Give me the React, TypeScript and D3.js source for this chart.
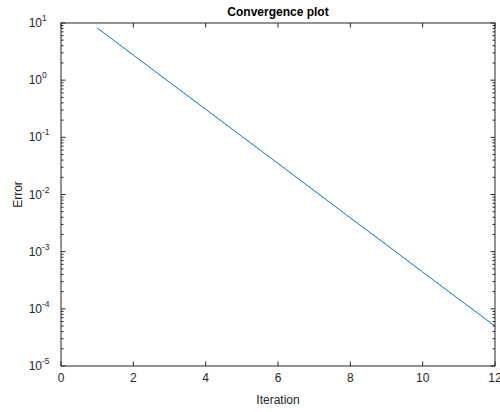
import React from 'react'
import * as d3 from 'd3'

// values
const iterations = [1, 2, 3, 4, 5, 6, 7, 8, 9, 10, 11, 12]
const errors = [8.2, 2.75, 0.92, 0.31, 0.104, 0.035, 0.0117, 0.0039, 0.00132, 4.4e-4, 1.48e-4, 5.0e-5]
const xTicks = [0, 2, 4, 6, 8, 10, 12]
const yExponents = [-5, -4, -3, -2, -1, 0, 1]

const width = 500
const height = 412
const margin = { top: 23, right: 5, bottom: 46, left: 61 }
const axisColor = '#262626'
const font = '"Liberation Sans", Arial, Helvetica, sans-serif'

const App = () => {
  const x = d3.scaleLinear().domain([0, 12]).range([margin.left, width - margin.right])
  const y = d3.scaleLog().domain([1e-5, 10]).range([height - margin.bottom, margin.top])

  const line = d3
    .line<number>()
    .x((_, i) => x(iterations[i]))
    .y((d) => y(d))

  const minorTicks: number[] = []
  yExponents.slice(0, -1).forEach((e) => {
    for (let m = 2; m <= 9; m++) minorTicks.push(m * Math.pow(10, e))
  })

  const x0 = margin.left
  const x1 = width - margin.right
  const y0 = height - margin.bottom
  const y1 = margin.top

  return (
    <svg width={width} height={height} style={{ position: 'absolute', left: 0, top: 0, background: '#fff' }}>
      <rect x={0} y={0} width={width} height={height} fill="#fff" />
      {/* data line */}
      <path d={line(errors) || ''} fill="none" stroke="#0072BD" strokeWidth={1} />

      {/* x ticks, bottom and top */}
      {xTicks.map((t) => (
        <g key={'x' + t}>
          <line x1={x(t)} x2={x(t)} y1={y0} y2={y0 - 4.5} stroke={axisColor} strokeWidth={1} />
          <line x1={x(t)} x2={x(t)} y1={y1} y2={y1 + 4.5} stroke={axisColor} strokeWidth={1} />
          <text x={x(t)} y={y0 + 16} textAnchor="middle" fontFamily={font} fontSize={12} fill={axisColor}>
            {t}
          </text>
        </g>
      ))}

      {/* y minor ticks */}
      {minorTicks.map((t, i) => (
        <g key={'m' + i}>
          <line x1={x0} x2={x0 + 2.5} y1={y(t)} y2={y(t)} stroke={axisColor} strokeWidth={1} />
          <line x1={x1} x2={x1 - 2.5} y1={y(t)} y2={y(t)} stroke={axisColor} strokeWidth={1} />
        </g>
      ))}

      {/* y major ticks */}
      {yExponents.map((e) => {
        const v = Math.pow(10, e)
        return (
          <g key={'y' + e}>
            <line x1={x0} x2={x0 + 4.5} y1={y(v)} y2={y(v)} stroke={axisColor} strokeWidth={1} />
            <line x1={x1} x2={x1 - 4.5} y1={y(v)} y2={y(v)} stroke={axisColor} strokeWidth={1} />
            <text x={x0 - 19} y={y(v) + 4} textAnchor="end" fontFamily={font} fontSize={12} fill={axisColor}>
              10
            </text>
            <text x={x0 - 19} y={y(v) - 2} textAnchor="start" fontFamily={font} fontSize={8.5} fill={axisColor}>
              {e}
            </text>
          </g>
        )
      })}

      {/* box */}
      <rect x={x0} y={y1} width={x1 - x0} height={y0 - y1} fill="none" stroke={axisColor} strokeWidth={1} />

      {/* labels */}
      <text x={(x0 + x1) / 2} y={16} textAnchor="middle" fontFamily={font} fontSize={12} fontWeight="bold" fill="#000">
        Convergence plot
      </text>
      <text x={(x0 + x1) / 2} y={404} textAnchor="middle" fontFamily={font} fontSize={12} fill={axisColor}>
        Iteration
      </text>
      <text
        transform={`translate(22, ${(y0 + y1) / 2}) rotate(-90)`}
        textAnchor="middle"
        fontFamily={font}
        fontSize={12}
        fill={axisColor}
      >
        Error
      </text>
    </svg>
  )
}

export default App
